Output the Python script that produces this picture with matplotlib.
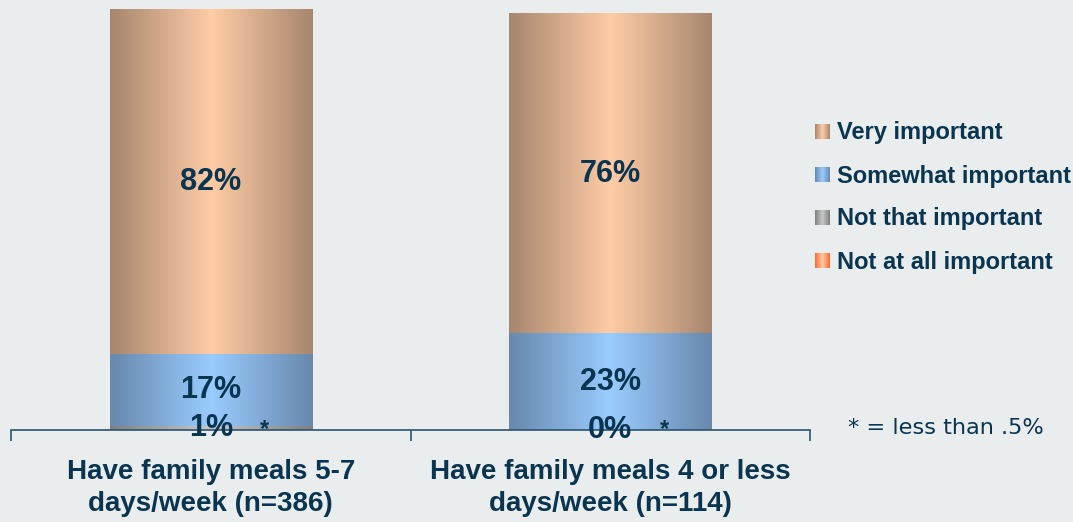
import numpy as np
import matplotlib
matplotlib.use('Agg')
import matplotlib.pyplot as plt
from matplotlib.colors import to_rgb

categories = ['Have family meals 5-7\ndays/week (n=386)',
              'Have family meals 4 or less\ndays/week (n=114)']
series = ['Very important', 'Somewhat important', 'Not that important', 'Not at all important']
very_important = [82, 76]
somewhat_important = [17, 23]
not_that_important = [1, 0]
not_at_all_important = [0, 0]
footnote = '* = less than .5%'

BG = '#E9EDEE'
TXT = '#0A3550'

# (edge colour, centre colour) of the horizontal gradient for each series
grad_colors = {
    'Very important': ('#A6866E', '#FFCCA6'),
    'Somewhat important': ('#6888AC', '#99CCFF'),
    'Not that important': ('#808080', '#C8C8C8'),
    'Not at all important': ('#FF6633', '#FFCCA6'),
}


def gradient(edge, centre, n=256):
    e = np.array(to_rgb(edge))
    c = np.array(to_rgb(centre))
    t = np.abs(np.linspace(-1, 1, n))[:, None]
    return (c + (e - c) * t)[None, :, :]


plt.rcParams['font.family'] = ['Liberation Sans', 'DejaVu Sans']
fig = plt.figure(figsize=(10.73, 5.22), dpi=100, facecolor=BG)
ax = fig.add_axes([11 / 1073, 1 - 430 / 522, 799 / 1073, 430 / 522])
ax.set_facecolor(BG)

x = np.arange(len(categories))
width = 0.506
stack = [('Not at all important', not_at_all_important),
         ('Not that important', not_that_important),
         ('Somewhat important', somewhat_important),
         ('Very important', very_important)]

bottom = np.zeros(len(categories))
for name, vals in stack:
    vals = np.array(vals, dtype=float)
    bars = ax.bar(x, vals, width, bottom=bottom, color=grad_colors[name][0],
                  linewidth=0, zorder=1)
    for b in bars:
        if b.get_height() > 0:
            ax.imshow(gradient(*grad_colors[name]),
                      extent=[b.get_x(), b.get_x() + b.get_width(),
                              b.get_y(), b.get_y() + b.get_height()],
                      aspect='auto', interpolation='bilinear', zorder=2)
    for i, v in enumerate(vals):
        if name == 'Not at all important':
            ax.text(x[i] + 0.135, bottom[i], '*', ha='center', va='center',
                    fontsize=17, fontweight='bold', color=TXT, zorder=4)
        elif name == 'Not that important':
            # tiny segments: label sits on the baseline
            ax.text(x[i], bottom[i] + v / 2, '%d%%' % v, ha='center', va='center',
                    fontsize=22, fontweight='bold', color=TXT, zorder=4)
        else:
            ax.text(x[i], bottom[i] + v / 2, '%d%%' % v, ha='center', va='center',
                    fontsize=22, fontweight='bold', color=TXT, zorder=4)
    bottom += vals

ax.set_xlim(-0.5, len(categories) - 0.5)
ax.set_ylim(0, 430 / 4.2)
for s in ['top', 'left', 'right']:
    ax.spines[s].set_visible(False)
ax.spines['bottom'].set_color('#2A5470')
ax.spines['bottom'].set_linewidth(1.2)
ax.spines['bottom'].set_zorder(3)
ax.set_yticks([])
ax.set_xticks(np.arange(len(categories) + 1) - 0.5)
ax.set_xticklabels([])
ax.tick_params(axis='x', length=8, width=1.2, color='#2A5470', direction='out')

for i, c in enumerate(categories):
    ax.text(x[i], -58 / 430, c, transform=ax.get_xaxis_transform(),
            ha='center', va='center', fontsize=20, fontweight='bold',
            color=TXT, linespacing=1.27)

# legend and footnote drawn in pixel coordinates
ov = fig.add_axes([0, 0, 1, 1], zorder=5)
ov.patch.set_visible(False)
ov.axis('off')
for k, name in enumerate(series):
    yc = 132 + k * 43
    ov.imshow(gradient(*grad_colors[name]), extent=[815, 830, yc + 7.5, yc - 7.5],
              aspect='auto', interpolation='bilinear')
    ov.text(837, yc + 1, name, ha='left', va='center', fontsize=17,
            fontweight='bold', color=TXT)
ov.set_xlim(0, 1073)
ov.set_ylim(522, 0)
ov.text(848, 428, footnote, ha='left', va='center', fontsize=16.2,
        family='DejaVu Sans', color=TXT)

fig.savefig('out.png', dpi=100, facecolor=BG)
